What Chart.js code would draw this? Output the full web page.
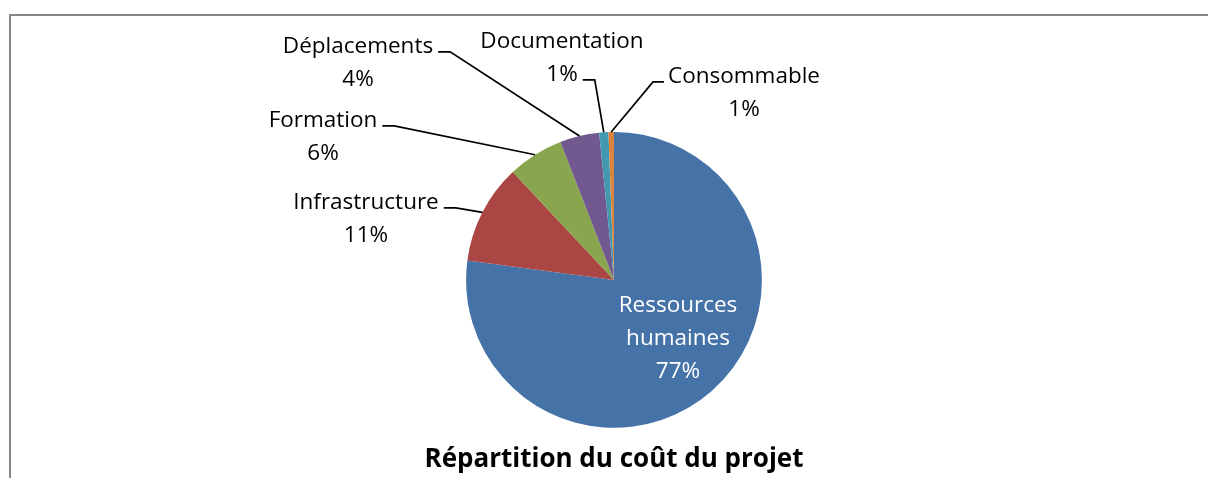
<!DOCTYPE html>
<html><head><meta charset="utf-8">
<script src="https://cdn.jsdelivr.net/npm/chart.js@4/dist/chart.umd.min.js"></script>
<style>html,body{margin:0;padding:0;background:#fff;overflow:hidden}#wrap{width:1208px;height:478px;position:relative}canvas{display:block}</style>
</head><body><div id="wrap"><canvas id="c" width="1208" height="478"></canvas></div>
<script>
// ---- data ----
const categories = ['Ressources humaines', 'Infrastructure', 'Formation', 'Déplacements', 'Documentation', 'Consommable'];
const shares = [77.1, 10.9, 6.1, 4.3, 1.0, 0.6];
const sliceColors = ['#4572A7', '#AA4643', '#89A54E', '#71588F', '#4198AF', '#DB843D'];
const titleText = 'Répartition du coût du projet';

// ---- label layout (offsets relative to pie centre; baseline of first line, centre x) ----
const labelLayout = [
  { split: ['Ressources', 'humaines'], inside: true, dx: 64, dy: 32 },
  { dx: -248, dy: -71, side: 'right', attachLine: 0 },
  { dx: -291, dy: -153, side: 'right', attachLine: 0 },
  { dx: -256, dy: -227, side: 'right', attachLine: 0 },
  { dx: -52, dy: -232, side: 'right', attachLine: 1 },
  { dx: 130, dy: -197, side: 'left', attachLine: 0 }
];
const LABEL_FONT = '22.5px "Open Sans"';
const LINE_H = 33;

const total = shares.reduce((a, b) => a + b, 0);

const framePlugin = {
  id: 'frame',
  beforeDraw(chart) {
    const ctx = chart.ctx;
    ctx.save();
    ctx.fillStyle = '#fff';
    ctx.fillRect(0, 0, chart.width, chart.height);
    ctx.strokeStyle = '#878787';
    ctx.lineWidth = 2;
    ctx.beginPath();
    ctx.moveTo(10, chart.height);
    ctx.lineTo(10, 15);
    ctx.lineTo(chart.width, 15);
    ctx.stroke();
    ctx.restore();
  }
};

const labelPlugin = {
  id: 'pieLabels',
  afterDatasetsDraw(chart) {
    const ctx = chart.ctx;
    const meta = chart.getDatasetMeta(0);
    ctx.save();
    ctx.font = LABEL_FONT;
    ctx.textAlign = 'center';
    ctx.textBaseline = 'alphabetic';
    meta.data.forEach((arc, i) => {
      const p = arc.getProps(['x', 'y', 'startAngle', 'endAngle', 'outerRadius'], true);
      const L = labelLayout[i];
      const pct = Math.round(shares[i] / total * 100) + '%';
      const lines = (L.split ? L.split : [categories[i]]).concat([pct]);
      const cx = p.x + L.dx, by = p.y + L.dy;
      ctx.fillStyle = L.inside ? '#ffffff' : '#000000';
      lines.forEach((t, k) => ctx.fillText(t, cx, by + k * LINE_H));
      if (!L.inside) {
        const mid = (p.startAngle + p.endAngle) / 2;
        const ex = p.x + p.outerRadius * Math.cos(mid);
        const ey = p.y + p.outerRadius * Math.sin(mid);
        const w = ctx.measureText(lines[L.attachLine]).width;
        const ay = by + L.attachLine * LINE_H - 1;
        const ax = L.side === 'right' ? cx + w / 2 + 5 : cx - w / 2 - 4;
        const kx = L.side === 'right' ? ax + 12 : ax - 11;
        ctx.strokeStyle = '#000';
        ctx.lineWidth = 1.7;
        ctx.beginPath();
        ctx.moveTo(ax, ay);
        ctx.lineTo(kx, ay);
        ctx.lineTo(ex, ey);
        ctx.stroke();
      }
    });
    ctx.restore();
  }
};

function build() {
  new Chart(document.getElementById('c'), {
    type: 'pie',
    data: {
      labels: categories,
      datasets: [{ data: shares, backgroundColor: sliceColors, borderWidth: 0, hoverOffset: 0 }]
    },
    options: {
      responsive: false,
      animation: false,
      devicePixelRatio: 1,
      layout: { padding: { left: 20, right: 0, top: 132, bottom: 3 } },
      plugins: {
        legend: { display: false },
        tooltip: { enabled: false },
        title: {
          display: true,
          text: titleText,
          position: 'bottom',
          color: '#000',
          font: { family: 'Open Sans', size: 26, weight: 'bold', lineHeight: 1.2 },
          padding: { top: 16, bottom: 0 }
        }
      }
    },
    plugins: [framePlugin, labelPlugin]
  });
}
const fontLoads = [document.fonts.load('22.5px "Open Sans"'), document.fonts.load('bold 26px "Open Sans"')];
Promise.all(fontLoads).then(build, build);
</script>
</body></html>
